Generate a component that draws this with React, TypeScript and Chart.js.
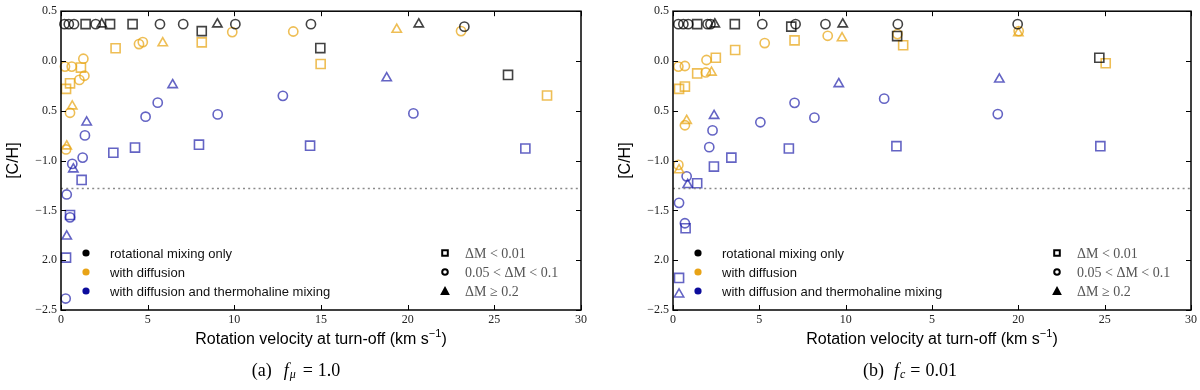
import React, { useEffect, useRef } from "react";
import { Chart, registerables } from "chart.js";

Chart.register(...registerables);

type P = [number, number];

// ---------- tick labels ----------
const xTickValues = [0, 5, 10, 15, 20, 25, 30];
const xTickLabelsA = ["0", "5", "10", "15", "20", "25", "30"];
const xTickLabelsB = ["0", "5", "10", "5", "20", "25", "30"];
const yTickValues = [-2.5, -2.0, -1.5, -1.0, -0.5, 0.0, 0.5];
const yTickLabels = ["−2.5", "2.0", "−1.5", "−1.0", "0.5", "0.0", "0.5"];
const thresholdLine = -1.28;

// ---------- panel (a): f_mu = 1.0 ----------
const aRotSquares: P[] = [[1.42, 0.37], [2.83, 0.37], [4.13, 0.37], [8.12, 0.30], [14.96, 0.13], [25.79, -0.14]];
const aRotCircles: P[] = [[0.2, 0.37], [0.45, 0.37], [0.75, 0.37], [2.0, 0.37], [5.71, 0.37], [7.05, 0.37], [10.06, 0.37], [14.42, 0.37], [23.27, 0.345]];
const aRotTriangles: P[] = [[2.35, 0.37], [9.02, 0.37], [20.64, 0.37]];

const aDiffSquares: P[] = [[0.29, -0.28], [0.52, -0.224], [1.15, -0.066], [3.15, 0.128], [8.12, 0.187], [14.98, -0.03], [28.04, -0.346]];
const aDiffCircles: P[] = [[0.23, -0.056], [0.62, -0.056], [1.29, 0.023], [1.06, -0.19], [1.35, -0.148], [0.52, -0.52], [0.29, -0.888], [4.5, 0.17], [4.72, 0.19], [9.88, 0.29], [13.4, 0.296], [23.08, 0.30]];
const aDiffTriangles: P[] = [[0.65, -0.454], [0.33, -0.855], [5.87, 0.18], [19.37, 0.316]];

const aThermoSquares: P[] = [[1.19, -1.194], [0.52, -1.546], [0.29, -1.974], [3.02, -0.921], [4.27, -0.869], [7.96, -0.84], [14.37, -0.85], [26.79, -0.879]];
const aThermoCircles: P[] = [[1.38, -0.747], [1.25, -0.97], [0.65, -1.033], [0.33, -1.34], [0.52, -1.57], [0.27, -2.385], [5.58, -0.418], [4.88, -0.559], [9.04, -0.536], [12.8, -0.35], [20.33, -0.526]];
const aThermoTriangles: P[] = [[1.48, -0.615], [0.71, -1.086], [0.33, -1.76], [6.44, -0.24], [18.79, -0.171]];

// ---------- panel (b): f_c = 0.01 ----------
const bRotSquares: P[] = [[1.4, 0.37], [3.58, 0.37], [6.85, 0.345], [12.98, 0.25], [24.69, 0.033]];
const bRotCircles: P[] = [[0.31, 0.37], [0.6, 0.37], [0.88, 0.37], [2.0, 0.37], [2.17, 0.37], [5.17, 0.37], [7.1, 0.37], [8.83, 0.37], [13.02, 0.37], [19.96, 0.37]];
const bRotTriangles: P[] = [[2.42, 0.37], [9.83, 0.37]];

const bDiffSquares: P[] = [[0.35, -0.28], [0.69, -0.257], [1.4, -0.125], [2.48, 0.033], [3.6, 0.11], [7.04, 0.207], [13.33, 0.158], [25.06, -0.023]];
const bDiffCircles: P[] = [[0.31, -0.056], [0.69, -0.05], [1.94, 0.01], [1.9, -0.115], [0.69, -0.645], [0.31, -1.043], [5.31, 0.18], [8.96, 0.253], [13.0, 0.27], [20.02, 0.30]];
const bDiffTriangles: P[] = [[2.23, -0.115], [0.79, -0.599], [0.35, -1.095], [9.79, 0.23], [20.0, 0.28]];

const bThermoSquares: P[] = [[1.4, -1.227], [2.37, -1.06], [3.38, -0.97], [0.73, -1.679], [0.35, -2.178], [6.71, -0.879], [12.94, -0.855], [24.75, -0.855]];
const bThermoCircles: P[] = [[2.29, -0.697], [2.1, -0.865], [0.79, -1.158], [0.35, -1.424], [0.69, -1.629], [5.06, -0.615], [7.04, -0.42], [8.19, -0.569], [12.23, -0.378], [18.81, -0.533]];
const bThermoTriangles: P[] = [[2.38, -0.549], [0.85, -1.243], [0.35, -2.342], [9.6, -0.23], [18.9, -0.184]];

// ---------- legend text ----------
const colorLegendLabels = ["rotational mixing only", "with diffusion", "with diffusion and thermohaline mixing"];
const shapeLegendLabels = ["ΔM < 0.01", "0.05 < ΔM < 0.1", "ΔM ≥ 0.2"];

// ---------- styles ----------
const markerColors = ["rgba(0,0,0,0.74)", "rgba(232,165,20,0.72)", "rgba(20,20,165,0.66)"];
const legendDotColors = ["#000000", "#e8a317", "#0c0c9c"];
const SANS = "'Liberation Sans', Arial, sans-serif";
const SERIF = "'Liberation Serif', 'DejaVu Serif', serif";

type PanelDef = {
  groups: [P[], P[], P[]][]; // per color: squares, circles, triangles
  xLabels: string[];
  caption: "a" | "b";
  captionCenter: number;
};

const panels: PanelDef[] = [
  {
    groups: [
      [aRotSquares, aRotCircles, aRotTriangles],
      [aDiffSquares, aDiffCircles, aDiffTriangles],
      [aThermoSquares, aThermoCircles, aThermoTriangles],
    ],
    xLabels: xTickLabelsA,
    caption: "a",
    captionCenter: 296,
  },
  {
    groups: [
      [bRotSquares, bRotCircles, bRotTriangles],
      [bDiffSquares, bDiffCircles, bDiffTriangles],
      [bThermoSquares, bThermoCircles, bThermoTriangles],
    ],
    xLabels: xTickLabelsB,
    caption: "b",
    captionCenter: 310,
  },
];

const shapeStyles = [
  { pointStyle: "rect", radius: 6.4 },
  { pointStyle: "circle", radius: 4.6 },
  { pointStyle: "triangle", radius: 5.4 },
];

function drawShape(ctx: CanvasRenderingContext2D, kind: number, x: number, y: number, s: number) {
  ctx.beginPath();
  if (kind === 0) {
    ctx.rect(x - s, y - s, 2 * s, 2 * s);
  } else if (kind === 1) {
    ctx.arc(x, y, s, 0, Math.PI * 2);
  } else {
    ctx.moveTo(x, y - s * 1.1);
    ctx.lineTo(x + s, y + s * 0.75);
    ctx.lineTo(x - s, y + s * 0.75);
    ctx.closePath();
  }
}

function makeDecor(def: PanelDef) {
  return {
    id: "decor",
    afterDraw(chart: any) {
      const { ctx, chartArea: a } = chart;
      const xs = chart.scales.x;
      const ys = chart.scales.y;
      ctx.save();
      // frame
      ctx.strokeStyle = "#000";
      ctx.lineWidth = 1.5;
      ctx.strokeRect(a.left, a.top, a.right - a.left, a.bottom - a.top);
      // inner ticks
      ctx.lineWidth = 1;
      ctx.beginPath();
      for (const v of xTickValues) {
        const px = Math.round(xs.getPixelForValue(v)) + 0.5;
        ctx.moveTo(px, a.bottom);
        ctx.lineTo(px, a.bottom - 5);
        ctx.moveTo(px, a.top);
        ctx.lineTo(px, a.top + 5);
      }
      for (const v of yTickValues) {
        const py = Math.round(ys.getPixelForValue(v)) + 0.5;
        ctx.moveTo(a.left, py);
        ctx.lineTo(a.left + 5, py);
        ctx.moveTo(a.right, py);
        ctx.lineTo(a.right - 5, py);
      }
      ctx.stroke();

      // color legend
      const rowY = [253, 272, 291];
      ctx.textBaseline = "middle";
      ctx.textAlign = "left";
      for (let i = 0; i < 3; i++) {
        ctx.fillStyle = legendDotColors[i];
        ctx.beginPath();
        ctx.arc(a.left + 25, rowY[i], 3.6, 0, Math.PI * 2);
        ctx.fill();
        ctx.fillStyle = "#111";
        ctx.font = `13px ${SANS}`;
        ctx.fillText(colorLegendLabels[i], a.left + 49, rowY[i] + 1);
      }
      // shape legend
      for (let i = 0; i < 3; i++) {
        ctx.strokeStyle = "#000";
        ctx.lineWidth = 2;
        if (i === 2) {
          ctx.fillStyle = "#000";
          drawShape(ctx, 2, a.left + 384, rowY[i] + 0.5, 3.2);
          ctx.fill();
          ctx.stroke();
        } else {
          drawShape(ctx, i, a.left + 384, rowY[i], 2.8);
          ctx.stroke();
        }
        ctx.fillStyle = "#555";
        ctx.font = `14px ${SERIF}`;
        ctx.fillText(shapeLegendLabels[i], a.left + 404, rowY[i] + 1);
      }

      // y title
      ctx.save();
      ctx.translate(a.left - 47, (a.top + a.bottom) / 2);
      ctx.rotate(-Math.PI / 2);
      ctx.textAlign = "center";
      ctx.fillStyle = "#000";
      ctx.font = `16px ${SANS}`;
      ctx.fillText("[C/H]", 0, 0);
      ctx.restore();

      // x title
      ctx.fillStyle = "#000";
      ctx.font = `16px ${SANS}`;
      const main = "Rotation velocity at turn-off (km s";
      const sup = "−1";
      const close = ")";
      const wMain = ctx.measureText(main).width;
      const wClose = ctx.measureText(close).width;
      ctx.font = `11px ${SANS}`;
      const wSup = ctx.measureText(sup).width;
      const total = wMain + wSup + wClose;
      let tx = (a.left + a.right) / 2 - total / 2;
      const ty = 340;
      ctx.font = `16px ${SANS}`;
      ctx.fillText(main, tx, ty);
      tx += wMain;
      ctx.font = `11px ${SANS}`;
      ctx.fillText(sup, tx, ty - 6);
      tx += wSup;
      ctx.font = `16px ${SANS}`;
      ctx.fillText(close, tx, ty);

      // caption
      const cy = 371;
      const pieces: { t: string; font: string; dy: number; gap: number }[] =
        def.caption === "a"
          ? [
              { t: "(a)", font: `18px ${SERIF}`, dy: 0, gap: 12 },
              { t: "f", font: `italic 18px ${SERIF}`, dy: 0, gap: 1 },
              { t: "μ", font: `italic 12px ${SERIF}`, dy: 4, gap: 7 },
              { t: "=", font: `18px ${SERIF}`, dy: 0, gap: 5 },
              { t: "1.0", font: `18px ${SERIF}`, dy: 0, gap: 0 },
            ]
          : [
              { t: "(b)", font: `18px ${SERIF}`, dy: 0, gap: 10 },
              { t: "f", font: `italic 18px ${SERIF}`, dy: 0, gap: 1 },
              { t: "c", font: `italic 12px ${SERIF}`, dy: 4, gap: 5 },
              { t: "=", font: `18px ${SERIF}`, dy: 0, gap: 5 },
              { t: "0.01", font: `18px ${SERIF}`, dy: 0, gap: 0 },
            ];
      let cw = 0;
      for (const p of pieces) {
        ctx.font = p.font;
        cw += ctx.measureText(p.t).width + p.gap;
      }
      let cx = def.captionCenter - cw / 2;
      for (const p of pieces) {
        ctx.font = p.font;
        ctx.fillText(p.t, cx, cy + p.dy);
        cx += ctx.measureText(p.t).width + p.gap;
      }
      ctx.restore();
    },
  };
}

function Panel({ def, left, plotLeft }: { def: PanelDef; left: number; plotLeft: number }) {
  const ref = useRef<HTMLCanvasElement | null>(null);
  useEffect(() => {
    if (!ref.current) return;
    const datasets: any[] = [];
    datasets.push({
      type: "line",
      data: [
        { x: 0, y: thresholdLine },
        { x: 30, y: thresholdLine },
      ],
      borderColor: "#8a8a8a",
      borderWidth: 1.6,
      borderDash: [2, 3.2],
      pointRadius: 0,
      fill: false,
    });
    def.groups.forEach((shapes, ci) => {
      shapes.forEach((pts, si) => {
        datasets.push({
          type: "scatter",
          data: pts.map(([x, y]) => ({ x, y })),
          pointStyle: shapeStyles[si].pointStyle,
          pointRadius: shapeStyles[si].radius,
          pointBorderWidth: 1.6,
          borderColor: markerColors[ci],
          backgroundColor: "rgba(0,0,0,0)",
          pointBackgroundColor: "rgba(0,0,0,0)",
          clip: false,
        });
      });
    });
    const chart = new Chart(ref.current, {
      type: "scatter",
      data: { datasets },
      options: {
        animation: false,
        responsive: false,
        events: [],
        layout: { padding: { top: 6, right: 600 - plotLeft - 520, left: 0, bottom: 0 } },
        plugins: { legend: { display: false }, tooltip: { enabled: false } },
        scales: {
          x: {
            type: "linear",
            min: 0,
            max: 30,
            grid: { display: false, drawTicks: false },
            border: { display: false },
            afterFit: (s: any) => {
              s.height = 80;
            },
            afterBuildTicks: (s: any) => {
              s.ticks = xTickValues.map((v) => ({ value: v }));
            },
            ticks: {
              padding: 3,
              maxRotation: 0,
              autoSkip: false,
              color: "#222",
              font: { family: SERIF, size: 12 },
              callback: (v: any) => {
                const i = xTickValues.indexOf(Number(v));
                return i >= 0 ? def.xLabels[i] : "";
              },
            },
          },
          y: {
            type: "linear",
            min: -2.5,
            max: 0.5,
            grid: { display: false, drawTicks: false },
            border: { display: false },
            afterFit: (s: any) => {
              s.width = plotLeft;
            },
            afterBuildTicks: (s: any) => {
              s.ticks = yTickValues.map((v) => ({ value: v }));
            },
            ticks: {
              padding: 4,
              autoSkip: false,
              color: "#222",
              font: { family: SERIF, size: 12 },
              callback: (v: any) => {
                const i = yTickValues.findIndex((t) => Math.abs(t - Number(v)) < 1e-6);
                return i >= 0 ? yTickLabels[i] : "";
              },
            },
          },
        },
      },
      plugins: [makeDecor(def)],
    } as any);
    return () => chart.destroy();
  }, [def, plotLeft]);
  return (
    <canvas
      ref={ref}
      width={600}
      height={390}
      style={{ position: "absolute", left, top: 0, width: 600, height: 390 }}
    />
  );
}

export default function App() {
  return (
    <div style={{ position: "absolute", left: 0, top: 0, width: 1200, height: 390, background: "#fff", overflow: "hidden" }}>
      <Panel def={panels[0]} left={0} plotLeft={61} />
      <Panel def={panels[1]} left={600} plotLeft={73} />
    </div>
  );
}
